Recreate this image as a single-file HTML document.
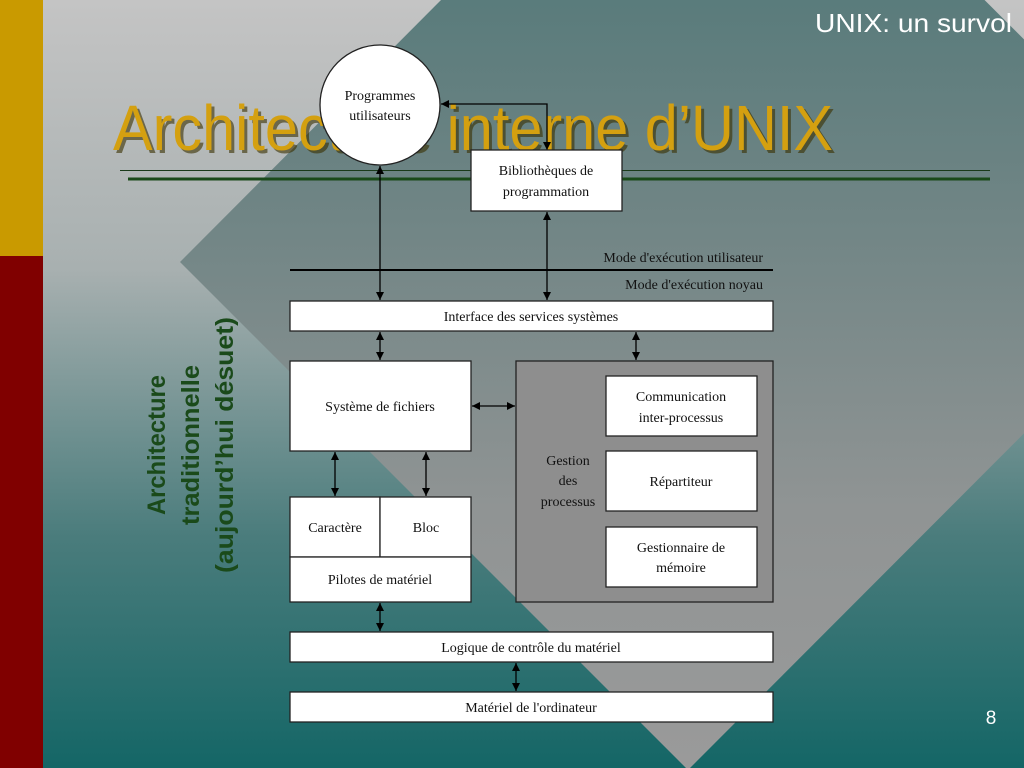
<!DOCTYPE html>
<html><head><meta charset="utf-8"><style>
html,body{margin:0;padding:0;width:1024px;height:768px;overflow:hidden}
svg{display:block}
.s{font-family:"Liberation Serif",serif;font-size:14px;fill:#111;text-anchor:middle}
</style></head><body>
<svg width="1024" height="768" viewBox="0 0 1024 768" xmlns="http://www.w3.org/2000/svg">
<defs>
<linearGradient id="bg" x1="0" y1="0" x2="0" y2="1">
<stop offset="0" stop-color="#c4c4c4"/><stop offset="0.35" stop-color="#a8b0b0"/><stop offset="0.7" stop-color="#4a7c7c"/><stop offset="1" stop-color="#146666"/>
</linearGradient>
<linearGradient id="dm" x1="0" y1="0" x2="0" y2="1">
<stop offset="0" stop-color="#3e7070"/><stop offset="0.45" stop-color="#6e8484"/><stop offset="0.75" stop-color="#909494"/><stop offset="1" stop-color="#9a9a9a"/>
</linearGradient>
<marker id="a" viewBox="0 0 10 10" refX="10" refY="5" markerWidth="8" markerHeight="8" orient="auto-start-reverse" markerUnits="userSpaceOnUse"><path d="M0,0 L10,5 L0,10 z" fill="#000"/></marker>
</defs>
<rect width="1024" height="768" fill="url(#bg)"/>
<polygon points="712,-272 1221,236 688,770 180,262" fill="url(#dm)"/>
<rect x="0" y="0" width="43" height="256" fill="#c99a00"/>
<rect x="0" y="256" width="43" height="512" fill="#800000"/>
<text x="1012" y="32" fill="#fff" font-family="Liberation Sans,sans-serif" font-size="26" text-anchor="end" textLength="197" lengthAdjust="spacingAndGlyphs">UNIX: un survol</text>
<text x="116" y="153" fill="#3a3000" opacity="0.6" font-family="Liberation Sans,sans-serif" font-size="64" textLength="720" lengthAdjust="spacingAndGlyphs">Architecture interne d’UNIX</text>
<text x="113" y="150" fill="#d4a010" font-family="Liberation Sans,sans-serif" font-size="64" textLength="720" lengthAdjust="spacingAndGlyphs">Architecture interne d’UNIX</text>
<line x1="120" y1="170.5" x2="990" y2="170.5" stroke="#1a3a1a" stroke-width="1"/>
<line x1="128" y1="179" x2="990" y2="179" stroke="#1a4a1a" stroke-width="3"/>
<g transform="translate(190,445) rotate(-90)" font-family="Liberation Sans,sans-serif" font-weight="bold" font-size="25" fill="#1a4a1a" text-anchor="middle">
<text x="0" y="-25" textLength="140" lengthAdjust="spacingAndGlyphs">Architecture</text>
<text x="0" y="9" textLength="160" lengthAdjust="spacingAndGlyphs">traditionnelle</text>
<text x="0" y="43" textLength="256" lengthAdjust="spacingAndGlyphs">(aujourd’hui désuet)</text>
</g>
<g stroke="#000" stroke-width="1.3" fill="none">
<polyline points="547,150 547,104 441,104" marker-end="url(#a)" marker-start="url(#a)"/>
<line x1="380" y1="166" x2="380" y2="300" marker-start="url(#a)" marker-end="url(#a)"/>
<line x1="547" y1="212" x2="547" y2="300" marker-start="url(#a)" marker-end="url(#a)"/>
<line x1="380" y1="332" x2="380" y2="360" marker-start="url(#a)" marker-end="url(#a)"/>
<line x1="636" y1="332" x2="636" y2="360" marker-start="url(#a)" marker-end="url(#a)"/>
<line x1="472" y1="406" x2="515" y2="406" marker-start="url(#a)" marker-end="url(#a)"/>
<line x1="335" y1="452" x2="335" y2="496" marker-start="url(#a)" marker-end="url(#a)"/>
<line x1="426" y1="452" x2="426" y2="496" marker-start="url(#a)" marker-end="url(#a)"/>
<line x1="380" y1="603" x2="380" y2="631" marker-start="url(#a)" marker-end="url(#a)"/>
<line x1="516" y1="663" x2="516" y2="691" marker-start="url(#a)" marker-end="url(#a)"/>
</g>
<line x1="290" y1="270" x2="773" y2="270" stroke="#000" stroke-width="2"/>
<text x="763" y="262" class="s" style="text-anchor:end">Mode d'exécution utilisateur</text>
<text x="763" y="289" class="s" style="text-anchor:end">Mode d'exécution noyau</text>
<g stroke="#222" stroke-width="1.3" fill="#fff">
<circle cx="380" cy="105" r="60"/>
<rect x="471" y="150" width="151" height="61"/>
<rect x="290" y="301" width="483" height="30"/>
<rect x="290" y="361" width="181" height="90"/>
<rect x="516" y="361" width="257" height="241" fill="#8e8e8e"/>
<rect x="606" y="376" width="151" height="60"/>
<rect x="606" y="451" width="151" height="60"/>
<rect x="606" y="527" width="151" height="60"/>
<rect x="290" y="497" width="90" height="60"/>
<rect x="380" y="497" width="91" height="60"/>
<rect x="290" y="557" width="181" height="45"/>
<rect x="290" y="632" width="483" height="30"/>
<rect x="290" y="692" width="483" height="30"/>
</g>
<text x="380" y="100" class="s">Programmes</text>
<text x="380" y="120" class="s">utilisateurs</text>
<text x="546" y="175" class="s">Bibliothèques de</text>
<text x="546" y="196" class="s">programmation</text>
<text x="531" y="321" class="s">Interface des services systèmes</text>
<text x="380" y="411" class="s">Système de fichiers</text>
<text x="681" y="401" class="s">Communication</text>
<text x="681" y="422" class="s">inter-processus</text>
<text x="681" y="486" class="s">Répartiteur</text>
<text x="681" y="552" class="s">Gestionnaire de</text>
<text x="681" y="572" class="s">mémoire</text>
<text x="568" y="465" class="s">Gestion</text>
<text x="568" y="485" class="s">des</text>
<text x="568" y="506" class="s">processus</text>
<text x="335" y="532" class="s">Caractère</text>
<text x="426" y="532" class="s">Bloc</text>
<text x="380" y="584" class="s">Pilotes de matériel</text>
<text x="531" y="652" class="s">Logique de contrôle du matériel</text>
<text x="531" y="712" class="s">Matériel de l'ordinateur</text>
<text x="991" y="724" fill="#fff" font-family="Liberation Sans,sans-serif" font-size="19" text-anchor="middle">8</text>
</svg>
</body></html>
